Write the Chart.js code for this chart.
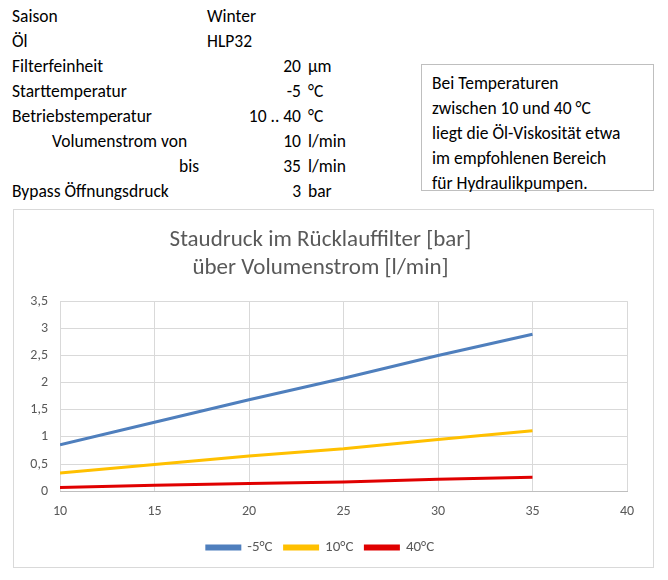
<!DOCTYPE html>
<html lang="de">
<head>
<meta charset="utf-8">
<script src="https://cdn.jsdelivr.net/npm/chart.js@4.4.1/dist/chart.umd.min.js"></script>
<style>
  body { margin: 0; background: #fff; font-family: Carlito, Calibri, Lato, sans-serif; }
  #page { position: relative; width: 668px; height: 580px; }
  .row { position: absolute; left: 0; height: 25px; line-height: 25px; font-size: 17.5px; color: #000; white-space: nowrap; }
  .lbl { position: absolute; }
  .val { position: absolute; text-align: right; width: 120px; }
  .unit { position: absolute; }
  #note { position: absolute; left: 421px; top: 64px; width: 221px; height: 119px; border: 1px solid #bfbfbf;
          padding: 6px 0 0 10px; font-size: 17.5px; line-height: 25px; color: #000; white-space: nowrap; }
  #box { position: absolute; left: 13px; top: 209px; width: 639px; height: 357px; border: 1px solid #d9d9d9; }
</style>
</head>
<body>
<div id="page">
  <div id="table"></div>
  <div id="note">Bei Temperaturen<br>zwischen 10 und 40 °C<br>liegt die Öl-Viskosität etwa<br>im empfohlenen Bereich<br>für Hydraulikpumpen.</div>
  <div id="box"><canvas id="chart" width="639" height="357"></canvas></div>
</div>
<script>
// Kopfdaten
const params = [
  { label: 'Saison', text: 'Winter' },
  { label: 'Öl', text: 'HLP32' },
  { label: 'Filterfeinheit', value: '20', unit: 'µm' },
  { label: 'Starttemperatur', value: '-5', unit: '°C' },
  { label: 'Betriebstemperatur', value: '10 .. 40', unit: '°C' },
  { label: 'Volumenstrom von', value: '10', unit: 'l/min', indent: 'von' },
  { label: 'bis', value: '35', unit: 'l/min', indent: 'bis' },
  { label: 'Bypass Öffnungsdruck', value: '3', unit: 'bar' }
];

// Diagrammdaten
const volumenstrom = [10, 15, 20, 25, 30, 35];
const druckMinus5 = [0.855, 1.27, 1.685, 2.08, 2.5, 2.89];
const druck10 = [0.335, 0.49, 0.65, 0.78, 0.95, 1.115];
const druck40 = [0.07, 0.11, 0.14, 0.17, 0.22, 0.255];
const serienNamen = ['-5°C', '10°C', '40°C'];
const farben = ['#4f7fbd', '#ffc000', '#e00000'];

const schrift = 'Carlito, Calibri, Lato, sans-serif';

const table = document.getElementById('table');
params.forEach((p, i) => {
  const row = document.createElement('div');
  row.className = 'row';
  row.style.top = (4 + i * 25) + 'px';
  let lblStyle = 'left:12px';
  if (p.indent === 'von') lblStyle = 'left:52px';
  if (p.indent === 'bis') lblStyle = 'text-align:right;width:60px;left:139px';
  let html = `<span class="lbl" style="${lblStyle}">${p.label}</span>`;
  if (p.text) html += `<span class="unit" style="left:207px">${p.text}</span>`;
  if (p.value) html += `<span class="val" style="left:181px">${p.value}</span><span class="unit" style="left:308px">${p.unit}</span>`;
  row.innerHTML = html;
  table.appendChild(row);
});

const toXY = ys => ys.map((y, i) => ({ x: volumenstrom[i], y: y }));
const werte = [druckMinus5, druck10, druck40];

new Chart(document.getElementById('chart'), {
  type: 'line',
  data: {
    datasets: werte.map((w, i) => ({
      label: serienNamen[i],
      data: toXY(w),
      borderColor: farben[i],
      backgroundColor: farben[i],
      borderWidth: 3,
      pointRadius: 0,
      tension: 0
    }))
  },
  options: {
    responsive: false,
    animation: false,
    layout: { padding: { left: 0, right: 26, top: 0, bottom: 2 } },
    plugins: {
      title: {
        display: true,
        text: ['Staudruck im Rücklauffilter [bar]', 'über Volumenstrom [l/min]'],
        color: '#595959',
        font: { family: schrift, size: 23, weight: 'normal', lineHeight: 1.22 },
        padding: { top: 16, bottom: 19 }
      },
      legend: {
        position: 'bottom',
        labels: {
          color: '#595959',
          font: { family: schrift, size: 15 },
          boxWidth: 33,
          boxHeight: 3,
          padding: 12
        }
      },
      tooltip: { enabled: false }
    },
    scales: {
      x: {
        type: 'linear',
        min: 10, max: 40,
        ticks: { stepSize: 5, color: '#595959', padding: 12,
                 font: { family: schrift, size: 14 } },
        grid: { color: '#d9d9d9', drawTicks: false },
        border: { color: '#bfbfbf' },
        afterFit: s => { s.height = s.height - 4; }
      },
      y: {
        min: 0, max: 3.5,
        ticks: { stepSize: 0.5, color: '#595959', padding: 12,
                 font: { family: schrift, size: 14 },
                 callback: v => String(v).replace('.', ',') },
        grid: { color: '#d9d9d9', drawTicks: false },
        border: { display: false },
        afterFit: s => { s.width = 46; }
      }
    }
  }
});
</script>
</body>
</html>
